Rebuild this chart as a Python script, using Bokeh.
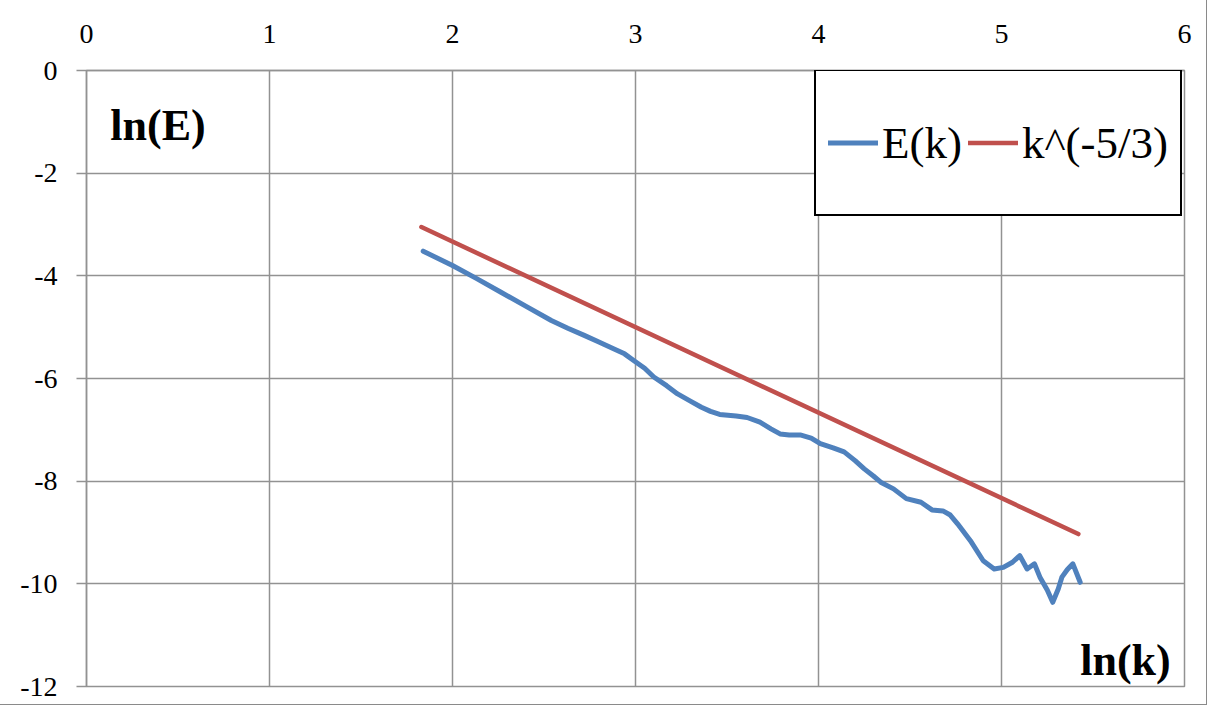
from bokeh.plotting import figure
from bokeh.models import FixedTicker, Label, Legend, LegendItem
from bokeh.embed import file_html
from bokeh.resources import INLINE

# ---- data ----
ek_x = [1.84, 2.00, 2.13, 2.26, 2.40, 2.54, 2.63, 2.72, 2.80, 2.88, 2.94, 2.99, 3.05,
        3.10, 3.17, 3.23, 3.30, 3.36, 3.41, 3.46, 3.55, 3.61, 3.68, 3.74, 3.79, 3.84,
        3.90, 3.96, 4.01, 4.08, 4.14, 4.20, 4.25, 4.30, 4.34, 4.41, 4.48, 4.56, 4.62,
        4.68, 4.72, 4.76, 4.83, 4.90, 4.96, 5.01, 5.06, 5.10, 5.14, 5.18, 5.21, 5.25,
        5.28, 5.31, 5.33, 5.36, 5.39, 5.43]
ek_y = [-3.52, -3.80, -4.05, -4.31, -4.59, -4.87, -5.02, -5.16, -5.29, -5.42, -5.52,
        -5.65, -5.80, -5.97, -6.14, -6.30, -6.44, -6.56, -6.64, -6.70, -6.73, -6.76,
        -6.85, -6.98, -7.08, -7.10, -7.10, -7.16, -7.27, -7.35, -7.43, -7.60, -7.76,
        -7.90, -8.02, -8.15, -8.34, -8.41, -8.56, -8.58, -8.66, -8.83, -9.16, -9.55,
        -9.71, -9.68, -9.58, -9.45, -9.71, -9.61, -9.87, -10.12, -10.36, -10.10, -9.87,
        -9.72, -9.61, -9.97]
ref_x = [1.83, 5.42]
ref_y = [-3.05, -9.03]

x_ticks = [0, 1, 2, 3, 4, 5, 6]
y_ticks = [0, -2, -4, -6, -8, -10, -12]

BLUE = "#4F81BD"
RED = "#C0504D"
GRID = "#929292"
FONT = "Liberation Serif"

p = figure(width=1206, height=704, x_range=(0, 6), y_range=(-12, 0),
           x_axis_location="above", output_backend="svg", toolbar_location=None,
           min_border_left=86, min_border_top=70, min_border_right=22, min_border_bottom=18)
p.styles = {"outline": "1px solid #8a8a8a"}

p.xaxis.ticker = FixedTicker(ticks=x_ticks)
p.yaxis.ticker = FixedTicker(ticks=y_ticks)
p.yaxis.major_label_overrides = {t: str(t) for t in y_ticks}
for ax in (p.xaxis[0], p.yaxis[0]):
    ax.axis_line_color = GRID
    ax.axis_line_width = 1.5
    ax.major_tick_line_color = GRID
    ax.major_tick_line_width = 1.5
    ax.minor_tick_line_color = None
    ax.major_label_text_font = FONT
    ax.major_label_text_font_size = "28px"
    ax.major_label_text_color = "black"
p.xaxis.major_tick_out = 0
p.xaxis.major_tick_in = 0
p.xaxis.major_label_standoff = 28
p.yaxis.major_tick_out = 10
p.yaxis.major_tick_in = 0
p.yaxis.major_label_standoff = 19

p.xgrid.ticker = FixedTicker(ticks=x_ticks)
p.ygrid.ticker = FixedTicker(ticks=y_ticks)
p.grid.grid_line_color = GRID
p.grid.grid_line_width = 1.5
p.outline_line_color = GRID
p.outline_line_width = 1.5

r_e = p.line(ek_x, ek_y, line_color=BLUE, line_width=5, line_join="round", line_cap="round")
r_k = p.line(ref_x, ref_y, line_color=RED, line_width=4.5, line_cap="round")

legend = Legend(items=[LegendItem(label="E(k)", renderers=[r_e]),
                       LegendItem(label="k^(-5/3)", renderers=[r_k])],
                orientation="horizontal", location=(728, 470),
                label_text_font=FONT, label_text_font_size="45px", label_text_color="black",
                glyph_width=50, glyph_height=119, label_height=119, label_standoff=4,
                spacing=6, padding=12, margin=0,
                border_line_color="black", border_line_width=2.5, border_line_alpha=1.0,
                background_fill_color="white", background_fill_alpha=1.0)
p.add_layout(legend)

p.add_layout(Label(x=0.13, y=-1.07, text="ln(E)", text_font=FONT, text_font_style="bold",
                   text_font_size="44px", text_baseline="alphabetic", text_color="black"))
p.add_layout(Label(x=5.43, y=-11.49, text="ln(k)", text_font=FONT, text_font_style="bold",
                   text_font_size="44px", text_baseline="alphabetic", text_color="black"))

open("out.html", "w").write(file_html(p, INLINE))
